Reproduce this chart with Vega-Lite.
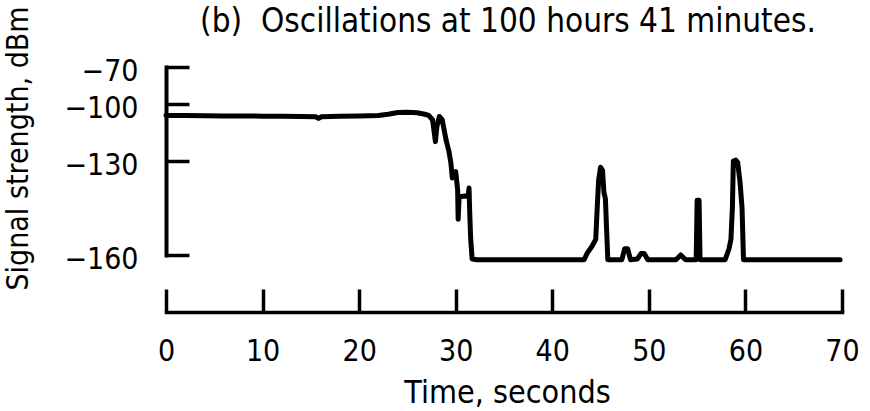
{
  "$schema": "https://vega.github.io/schema/vega-lite/v6.json",
  "width": 676,
  "height": 188,
  "autosize": "none",
  "padding": {"left": 166, "top": 67, "right": 28, "bottom": 156},
  "background": "white",
  "title": {
    "text": "(b)\u00a0\u00a0Oscillations at 100 hours 41 minutes.",
    "font": "DejaVu Sans Condensed",
    "fontSize": 33,
    "fontWeight": "normal",
    "color": "#000",
    "anchor": "middle",
    "frame": "group",
    "baseline": "alphabetic",
    "offset": -59,
    "dx": 4
  },
  "data": {
    "values": [
      {"t": 0, "dbm": -106.0},
      {"t": 2, "dbm": -106.1},
      {"t": 4, "dbm": -106.2},
      {"t": 6, "dbm": -106.3},
      {"t": 8, "dbm": -106.3},
      {"t": 10, "dbm": -106.4},
      {"t": 12, "dbm": -106.5},
      {"t": 14, "dbm": -106.6},
      {"t": 15.5, "dbm": -106.7},
      {"t": 15.8, "dbm": -107.6},
      {"t": 16.1, "dbm": -106.7},
      {"t": 18, "dbm": -106.5},
      {"t": 20, "dbm": -106.3},
      {"t": 22, "dbm": -106.0},
      {"t": 23, "dbm": -105.4},
      {"t": 24, "dbm": -104.5},
      {"t": 25, "dbm": -104.3},
      {"t": 26, "dbm": -104.6},
      {"t": 26.8, "dbm": -105.4},
      {"t": 27.2, "dbm": -106.0},
      {"t": 27.6, "dbm": -108.3},
      {"t": 27.9, "dbm": -119.8},
      {"t": 28.05, "dbm": -112.0},
      {"t": 28.3, "dbm": -106.6},
      {"t": 28.6, "dbm": -108.3},
      {"t": 29.0, "dbm": -118.9},
      {"t": 29.3, "dbm": -125.0},
      {"t": 29.5, "dbm": -130.6},
      {"t": 29.65, "dbm": -135.4},
      {"t": 30.0, "dbm": -133.4},
      {"t": 30.2, "dbm": -139.2},
      {"t": 30.25, "dbm": -148.6},
      {"t": 30.35, "dbm": -141.5},
      {"t": 30.6, "dbm": -141.3},
      {"t": 31.3, "dbm": -141.0},
      {"t": 31.38, "dbm": -138.6},
      {"t": 31.45, "dbm": -146.4},
      {"t": 31.55, "dbm": -154.9},
      {"t": 31.7, "dbm": -161.3},
      {"t": 32.2, "dbm": -161.5},
      {"t": 36, "dbm": -161.5},
      {"t": 40, "dbm": -161.5},
      {"t": 43.3, "dbm": -161.5},
      {"t": 43.6, "dbm": -159.5},
      {"t": 44.1, "dbm": -157.3},
      {"t": 44.5, "dbm": -155.0},
      {"t": 44.65, "dbm": -145.0},
      {"t": 44.8, "dbm": -136.0},
      {"t": 45.0, "dbm": -132.0},
      {"t": 45.2, "dbm": -133.0},
      {"t": 45.35, "dbm": -140.0},
      {"t": 45.5, "dbm": -142.0},
      {"t": 45.6, "dbm": -150.0},
      {"t": 45.75, "dbm": -161.5},
      {"t": 47.2, "dbm": -161.5},
      {"t": 47.5, "dbm": -158.0},
      {"t": 47.8, "dbm": -158.0},
      {"t": 48.1, "dbm": -161.5},
      {"t": 48.8, "dbm": -161.3},
      {"t": 49.2, "dbm": -159.5},
      {"t": 49.5, "dbm": -159.5},
      {"t": 49.9, "dbm": -161.5},
      {"t": 52.8, "dbm": -161.5},
      {"t": 53.3, "dbm": -160.0},
      {"t": 53.8, "dbm": -161.5},
      {"t": 54.9, "dbm": -161.5},
      {"t": 55.0, "dbm": -142.5},
      {"t": 55.2, "dbm": -142.5},
      {"t": 55.3, "dbm": -161.5},
      {"t": 57.9, "dbm": -161.5},
      {"t": 58.3, "dbm": -158.0},
      {"t": 58.5, "dbm": -155.0},
      {"t": 58.65, "dbm": -145.0},
      {"t": 58.75, "dbm": -130.0},
      {"t": 59.0, "dbm": -129.5},
      {"t": 59.2, "dbm": -130.5},
      {"t": 59.45, "dbm": -137.0},
      {"t": 59.65, "dbm": -145.0},
      {"t": 59.8, "dbm": -161.5},
      {"t": 64, "dbm": -161.5},
      {"t": 69.8, "dbm": -161.5}
    ]
  },
  "mark": {"type": "line", "color": "#000", "strokeWidth": 5, "strokeJoin": "round", "strokeCap": "round"},
  "encoding": {
    "x": {
      "field": "t",
      "type": "quantitative",
      "scale": {"domain": [0, 70], "nice": false, "zero": false},
      "axis": {
        "orient": "bottom",
        "offset": 57,
        "values": [0, 10, 20, 30, 40, 50, 60, 70],
        "title": "Time, seconds",
        "titleFont": "DejaVu Sans Condensed",
        "titleFontSize": 32,
        "titleFontWeight": "normal",
        "titleColor": "#000",
        "titleBaseline": "alphabetic",
        "titleX": 341,
        "titleY": 90,
        "labelFont": "DejaVu Sans Condensed",
        "labelFontSize": 30,
        "labelColor": "#000",
        "labelBaseline": "alphabetic",
        "labelPadding": 71,
        "labelFlush": false,
        "labelOverlap": false,
        "tickSize": -23,
        "tickWidth": 3.5,
        "tickColor": "#000",
        "domainWidth": 3.5,
        "domainColor": "#000",
        "domainCap": "square",
        "grid": false
      }
    },
    "y": {
      "field": "dbm",
      "type": "quantitative",
      "scale": {"domain": [-160, -130, -100, -70], "range": [188, 94, 37, 0], "nice": false, "zero": false},
      "axis": {
        "orient": "left",
        "values": [-160, -130, -100, -70],
        "title": "Signal strength, dBm",
        "titleFont": "DejaVu Sans Condensed",
        "titleFontSize": 30,
        "titleFontWeight": "normal",
        "titleColor": "#000",
        "titleBaseline": "alphabetic",
        "titleAngle": -90,
        "titleX": -139,
        "titleY": 81,
        "labelFont": "DejaVu Sans Condensed",
        "labelFontSize": 30,
        "labelColor": "#000",
        "labelBaseline": "middle",
        "labelOffset": 4,
        "labelPadding": 51,
        "labelFlush": false,
        "labelOverlap": false,
        "tickSize": -23,
        "tickWidth": 3.5,
        "tickColor": "#000",
        "domainWidth": 4,
        "domainColor": "#000",
        "domainCap": "square",
        "grid": false
      }
    }
  },
  "config": {"view": {"stroke": null}}
}
